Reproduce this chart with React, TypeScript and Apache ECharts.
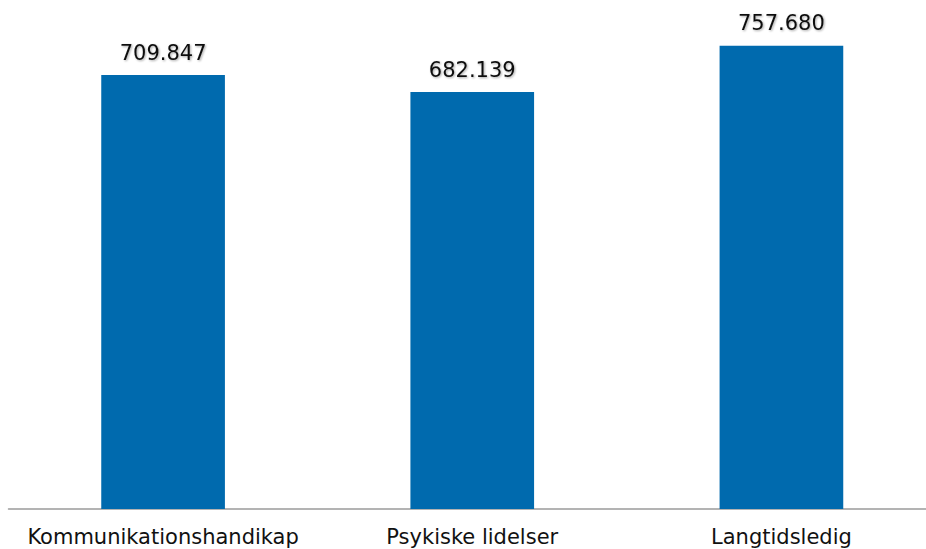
import React, { useEffect, useRef } from "react";
import * as echarts from "echarts";

const categories = ["Kommunikationshandikap", "Psykiske lidelser", "Langtidsledig"];
const values = [709847, 682139, 757680];

function fmt(v: number): string {
  return String(v).replace(/\B(?=(\d{3})+(?!\d))/g, ".");
}

export default function App() {
  const ref = useRef<HTMLDivElement>(null);
  useEffect(() => {
    if (!ref.current) return;
    const chart = echarts.init(ref.current, undefined, { renderer: "svg" });
    chart.setOption({
      animation: false,
      backgroundColor: "#ffffff",
      grid: { left: 8.5, right: 10, top: 20, bottom: 40, containLabel: false },
      xAxis: {
        type: "category",
        data: categories,
        axisLine: { show: true, lineStyle: { color: "#9a9a9a", width: 1.5 } },
        axisTick: { show: false },
        axisLabel: {
          interval: 0,
          margin: 17,
          color: "#111111",
          fontFamily: "DejaVu Sans",
          fontSize: 21,
        },
      },
      yAxis: {
        type: "value",
        min: 0,
        max: 800000,
        show: false,
        splitLine: { show: false },
      },
      series: [
        {
          type: "bar",
          data: values,
          barWidth: "40%",
          itemStyle: { color: "#006AAE" },
          label: {
            show: true,
            position: "top",
            distance: 12,
            color: "#111111",
            fontFamily: "DejaVu Sans",
            fontSize: 21,
            formatter: (p: any) => fmt(p.value),
            textShadowColor: "rgba(0,0,0,0.35)",
            textShadowBlur: 2,
            textShadowOffsetX: 1,
            textShadowOffsetY: 1,
          },
        },
      ],
    });
    return () => chart.dispose();
  }, []);
  return (
    <div
      ref={ref}
      style={{ position: "fixed", left: 0, top: 0, width: 946, height: 549 }}
    />
  );
}
